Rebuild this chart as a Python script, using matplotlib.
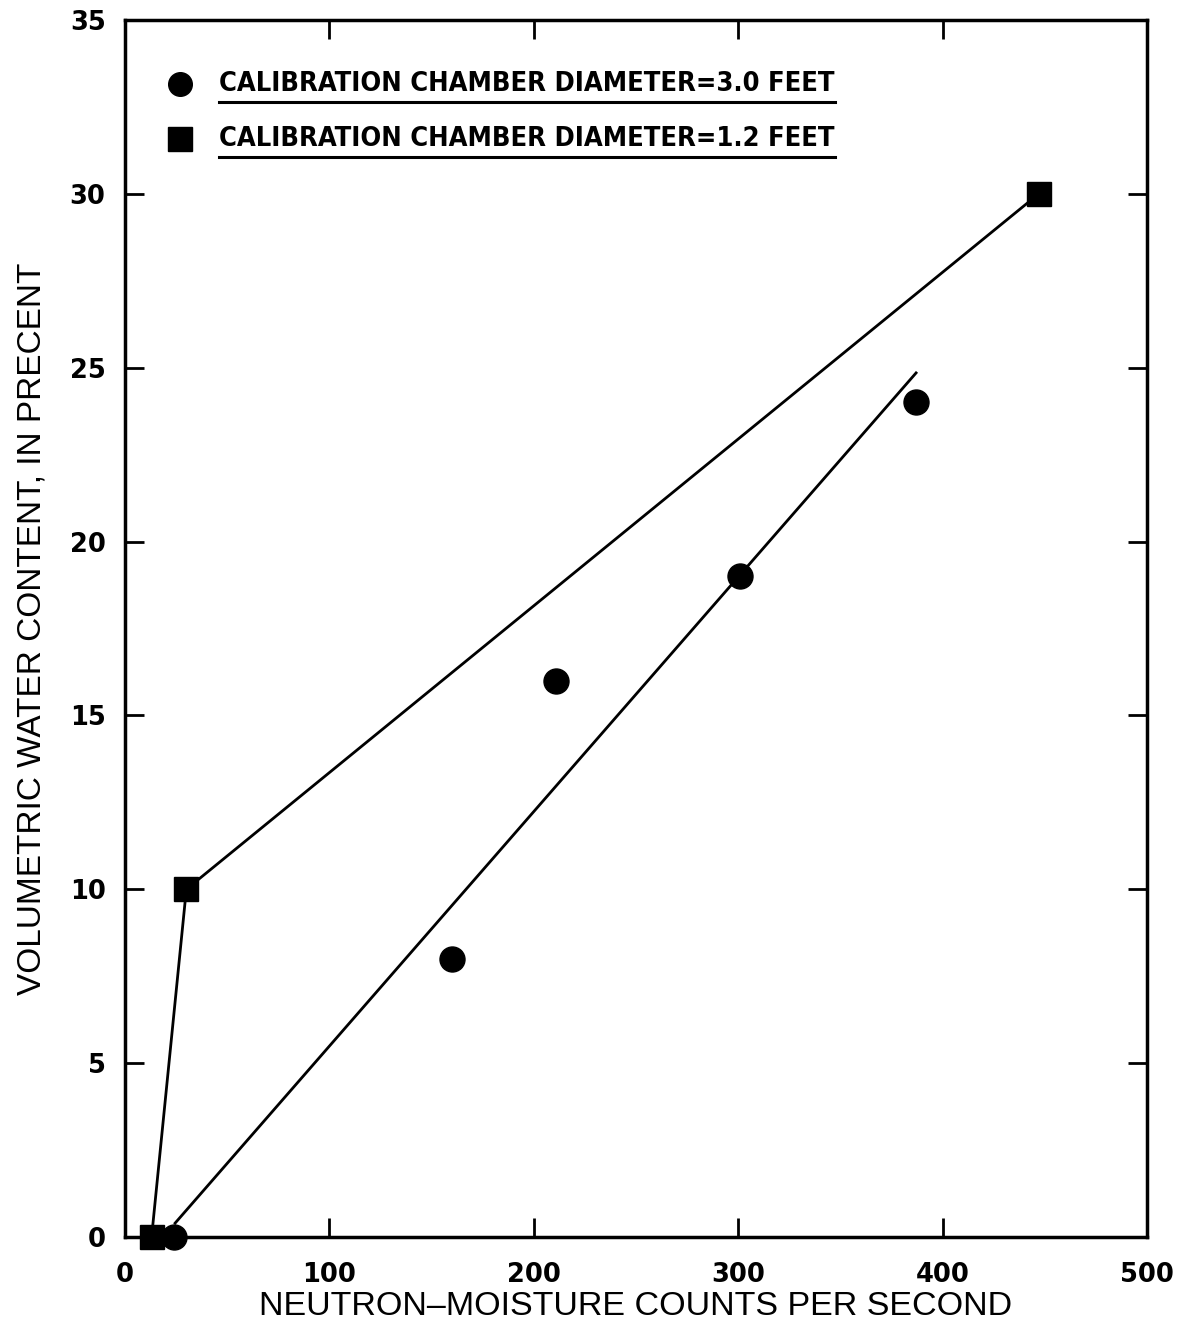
import matplotlib
matplotlib.use("Agg")
import matplotlib.pyplot as plt
from matplotlib.lines import Line2D

# Data
sq_x = [13, 30, 447]
sq_y = [0, 10, 30]
circ_x = [24, 160, 211, 301, 387]
circ_y = [0, 8, 16, 19, 24]
fit_x = [24.5, 387]
fit_y = [0.4, 24.85]
xticks = [0, 100, 200, 300, 400, 500]
yticks = [0, 5, 10, 15, 20, 25, 30, 35]
legend_labels = ["CALIBRATION CHAMBER DIAMETER=3.0 FEET",
                 "CALIBRATION CHAMBER DIAMETER=1.2 FEET"]

fig = plt.figure(figsize=(11.84, 13.30), dpi=100)
ax = fig.add_axes([0.1056, 0.0699, 0.9688 - 0.1056, 0.985 - 0.0699])

ax.plot(sq_x, sq_y, color="black", lw=2)
ax.plot(fit_x, fit_y, color="black", lw=2)
ax.plot(sq_x, sq_y, ls="none", marker="s", ms=17, color="black", clip_on=False)
ax.plot(circ_x, circ_y, ls="none", marker="o", ms=18, color="black", clip_on=False)

ax.set_xlim(0, 500)
ax.set_ylim(0, 35)
ax.set_xticks(xticks)
ax.set_yticks(yticks)
ax.tick_params(direction="in", length=14, width=2, top=True, right=True,
               labelsize=18.5)
ax.tick_params(axis="x", pad=18)
ax.tick_params(axis="y", pad=14)
for lab in ax.get_xticklabels() + ax.get_yticklabels():
    lab.set_fontweight("bold")
    lab.set_family("DejaVu Sans")
for s in ax.spines.values():
    s.set_linewidth(2.5)

ax.set_xlabel("NEUTRON\u2013MOISTURE COUNTS PER SECOND", fontsize=24.5,
              family=["Liberation Sans", "DejaVu Sans"], labelpad=2)
ax.set_ylabel("VOLUMETRIC WATER CONTENT, IN PRECENT", fontsize=24,
              family=["Liberation Sans", "DejaVu Sans"], labelpad=16)

# Legend
markers = ["o", "s"]
ly = [0.9475, 0.902]
texts = []
for m, y, lab in zip(markers, ly, legend_labels):
    ax.plot([0.054], [y], transform=ax.transAxes, marker=m, ms=17, color="black",
            clip_on=False)
    t = ax.text(0.092, y, lab, transform=ax.transAxes, fontsize=19.5, fontweight="bold",
                family=["DejaVu Sans"], fontstretch="condensed", va="center", ha="left")
    texts.append(t)

fig.canvas.draw()
r = fig.canvas.get_renderer()
inv = ax.transAxes.inverted()
for t in texts:
    bb = t.get_window_extent(r)
    (x0, y0), (x1, y1) = inv.transform([[bb.x0, bb.y0], [bb.x1, bb.y1]])
    ax.add_line(Line2D([x0, x1], [y0 - 0.004, y0 - 0.004], transform=ax.transAxes,
                       color="black", lw=2.2, clip_on=False))

fig.savefig("out.png", dpi=100)
